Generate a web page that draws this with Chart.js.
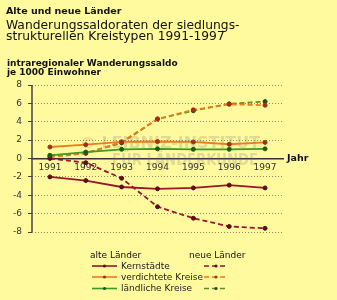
<!DOCTYPE html>
<html lang="de">
<head>
    <meta charset="UTF-8">
    <title>Wanderungssaldoraten</title>
    <script src="https://cdn.jsdelivr.net/npm/chart.js"></script>
    <style>
        body {
            margin: 0;
            background-color: #fffa9e;
            font-family: 'DejaVu Sans', sans-serif;
            color: #111;
        }

        #wrap {
            position: relative;
            width: 337px;
            height: 300px;
            overflow: hidden;
        }

        #wrap canvas {
            position: absolute;
            left: 0;
            top: 0;
        }

        .txt {
            position: absolute;
            white-space: nowrap;
        }
    </style>
</head>
<body>
    <div id="wrap">
        <canvas id="saldo" width="337" height="300"></canvas>
        <div class="txt" style="left:6px; top:6px; font-size:9.5px; line-height:10px; font-weight:bold;">Alte und neue Länder</div>
        <div class="txt" style="left:6px; top:20px; font-size:12.3px; line-height:11px;">Wanderungssaldoraten der siedlungs-<br>strukturellen Kreistypen 1991-1997</div>
        <div class="txt" style="left:7px; top:59px; font-size:9px; line-height:9px; font-weight:bold;">intraregionaler Wanderungssaldo<br>je 1000 Einwohner</div>
        <div class="txt" style="left:287px; top:153px; font-size:9.5px; line-height:10px; font-weight:bold;">Jahr</div>
        <div class="txt" style="left:90px; top:250px; font-size:9px; line-height:10px;">alte Länder</div>
        <div class="txt" style="left:189px; top:250px; font-size:9px; line-height:10px;">neue Länder</div>
    </div>

    <script>
        // data
        const years = ['1991', '1992', '1993', '1994', '1995', '1996', '1997'];
        const kategorien = ['Kernstädte', 'verdichtete Kreise', 'ländliche Kreise'];

        const kernAlt = [-2.0, -2.4, -3.1, -3.3, -3.2, -2.9, -3.2];
        const verdAlt = [1.25, 1.5, 1.8, 1.85, 1.8, 1.55, 1.75];
        const laendAlt = [0.35, 0.7, 1.0, 1.05, 1.0, 1.0, 1.05];

        const kernNeu = [0.0, -0.45, -2.15, -5.25, -6.5, -7.4, -7.6];
        const verdNeu = [0.15, 0.55, 1.8, 4.3, 5.3, 5.9, 5.8];
        const laendNeu = [0.3, 0.6, 1.7, 4.3, 5.2, 5.95, 6.2];

        const yTicks = [-8, -6, -4, -2, 0, 2, 4, 6, 8];

        const rot = '#9a1530';
        const orange = '#f07a1e';
        const gruen = '#3d9a26';
        const oliv = '#5e8f22';

        function serie(label, data, color, dashed, pointColor) {
            return {
                label: label,
                data: data,
                borderColor: color,
                backgroundColor: color,
                borderWidth: 1.8,
                borderDash: dashed ? [5, 3] : [],
                pointRadius: 2,
                pointBackgroundColor: pointColor,
                pointBorderColor: pointColor,
                pointBorderWidth: 1,
                tension: 0,
                fill: false
            };
        }

        // watermark behind the lines, plus solid y axis line
        const hintergrund = {
            id: 'hintergrund',
            beforeDatasetsDraw(chart) {
                const ctx = chart.ctx;
                const area = chart.chartArea;
                ctx.save();
                ctx.fillStyle = 'rgba(110,110,110,0.22)';
                ctx.font = 'bold 16px "DejaVu Sans"';
                ctx.textAlign = 'left';
                ctx.textBaseline = 'alphabetic';
                ctx.fillText('© LEIBNIZ-INSTITUT', 80, 148, 180);
                ctx.fillText('FÜR LÄNDERKUNDE', 112, 165, 146);

                ctx.strokeStyle = '#444';
                ctx.lineWidth = 1.5;
                ctx.beginPath();
                ctx.moveTo(area.left, area.top);
                ctx.lineTo(area.left, area.bottom);
                ctx.stroke();
                ctx.restore();
            }
        };

        // two-column legend below the chart
        const legende = {
            id: 'legende',
            afterDraw(chart) {
                const ctx = chart.ctx;
                const rows = [266, 277, 288.5];
                ctx.save();
                chart.data.datasets.forEach((ds, i) => {
                    const row = i % 3;
                    const neu = i >= 3;
                    const x0 = neu ? 204 : 92;
                    const x1 = neu ? 228 : 117;
                    const y = rows[row];
                    ctx.strokeStyle = ds.borderColor;
                    ctx.lineWidth = 1.6;
                    ctx.setLineDash(ds.borderDash);
                    ctx.beginPath();
                    ctx.moveTo(x0, y);
                    ctx.lineTo(x1, y);
                    ctx.stroke();
                    ctx.setLineDash([]);
                    ctx.fillStyle = ds.pointBackgroundColor;
                    ctx.beginPath();
                    ctx.arc((x0 + x1) / 2, y, 1.6, 0, Math.PI * 2);
                    ctx.fill();
                    if (!neu) {
                        ctx.fillStyle = '#222';
                        ctx.font = '9px "DejaVu Sans"';
                        ctx.textBaseline = 'middle';
                        ctx.fillText(kategorien[row], 121, y + 0.5);
                    }
                });
                ctx.restore();
            }
        };

        const ctx = document.getElementById('saldo').getContext('2d');
        const chart = new Chart(ctx, {
            type: 'line',
            data: {
                labels: years,
                datasets: [
                    serie(kategorien[0], kernAlt, rot, false, '#5a0f1c'),
                    serie(kategorien[1], verdAlt, orange, false, '#a0301a'),
                    serie(kategorien[2], laendAlt, gruen, false, '#1f5a14'),
                    serie(kategorien[0], kernNeu, rot, true, '#5a0f1c'),
                    serie(kategorien[1], verdNeu, orange, true, '#a0301a'),
                    serie(kategorien[2], laendNeu, oliv, true, '#2a4a14')
                ]
            },
            options: {
                responsive: false,
                animation: false,
                layout: {
                    padding: { left: 0, top: 85, right: 54, bottom: 68 }
                },
                plugins: {
                    legend: { display: false },
                    title: { display: false },
                    tooltip: { enabled: false }
                },
                scales: {
                    x: {
                        type: 'category',
                        offset: true,
                        position: { y: 0 },
                        grid: { display: false, drawTicks: false, tickLength: 0 },
                        border: { display: true, color: '#333', width: 1.5 },
                        ticks: {
                            color: '#333',
                            padding: 4,
                            maxRotation: 0,
                            font: { family: 'DejaVu Sans', size: 9 }
                        }
                    },
                    y: {
                        min: -8,
                        max: 8,
                        afterBuildTicks: (scale) => {
                            scale.ticks = yTicks.map(v => ({ value: v }));
                        },
                        afterFit: (scale) => {
                            scale.width = 32;
                        },
                        grid: {
                            color: '#8a8a70',
                            lineWidth: 1,
                            borderDash: [1, 2],
                            drawTicks: true,
                            tickLength: 4,
                            tickColor: '#444',
                            tickBorderDash: []
                        },
                        border: { display: false, dash: [1, 2] },
                        ticks: {
                            color: '#333',
                            padding: 6,
                            font: { family: 'DejaVu Sans', size: 9 }
                        }
                    }
                }
            },
            plugins: [hintergrund, legende]
        });
    </script>
</body>
</html>
